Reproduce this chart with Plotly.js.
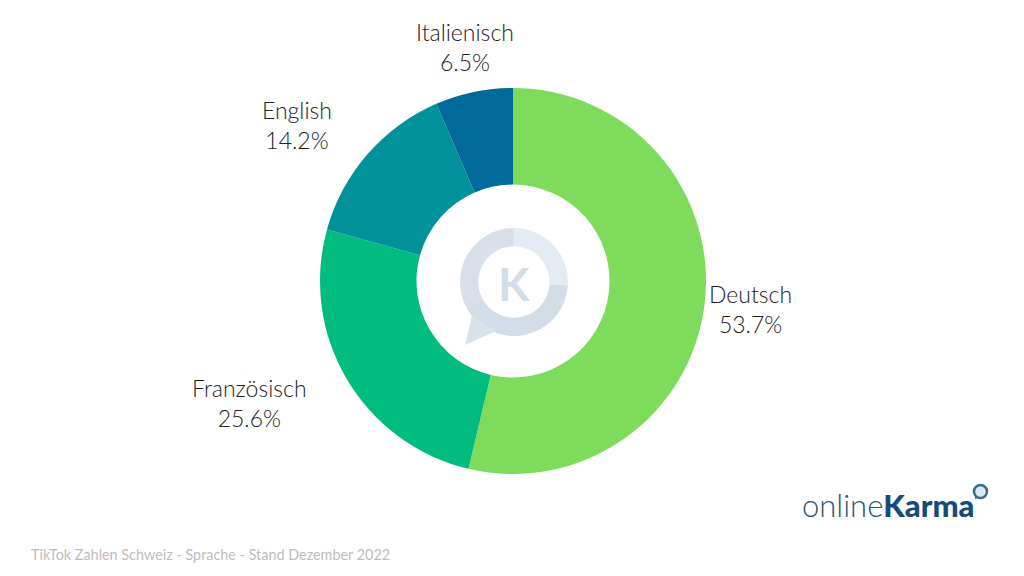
<!DOCTYPE html>
<html>
<head>
<meta charset="utf-8">
<script src="https://cdn.plot.ly/plotly-3.0.1.min.js"></script>
<style>
html, body { margin: 0; padding: 0; background: #fff; }
#chart { width: 1024px; height: 576px; }
</style>
</head>
<body>
<div id="chart"></div>
<script>
const languages = ['Deutsch', 'Französisch', 'English', 'Italienisch'];
const shares = [53.7, 25.6, 14.2, 6.5];
const colors = ['#7FDB5B', '#00BC7E', '#00919A', '#006A9A'];
// label centres in pixels
const labelX = [750, 249, 297, 465];
const labelY = [309, 403, 125, 47];

// watermark ring in the hole
const ringParts = [26, 41, 33];
const ringColors = ['#E3EBF5', '#D3DDE7', '#D9DFE9'];

const footer = 'TikTok Zahlen Schweiz - Sprache - Stand Dezember 2022';
const W = 1024, H = 576;
const FONT = 'Lato, "Open Sans", sans-serif';

function px(x) { return x / W; }
function py(y) { return 1 - y / H; }

function getAnnotations() {
    let annotations = languages.map((name, i) => ({
        text: name + '<br>' + shares[i].toFixed(1) + '%',
        x: px(labelX[i]),
        y: py(labelY[i]),
        xref: 'paper', yref: 'paper',
        xanchor: 'center', yanchor: 'middle',
        showarrow: false,
        align: 'center',
        font: {family: FONT, size: 23, color: '#222222', weight: 300}
    }));

    annotations.push({
        text: footer,
        x: px(29), y: py(554),
        xref: 'paper', yref: 'paper',
        xanchor: 'left', yanchor: 'middle',
        showarrow: false,
        font: {family: FONT, size: 14.4, color: '#BDBDBD'}
    });
    annotations.push({
        text: 'K',
        x: px(514), y: py(283),
        xref: 'paper', yref: 'paper',
        xanchor: 'center', yanchor: 'middle',
        showarrow: false,
        font: {family: FONT, size: 46, color: '#D3DDE7', weight: 700}
    });
    annotations.push({
        text: '<span style="font-weight:300;color:#2F5373">online</span><span style="font-weight:900;color:#154A7D">Karma</span>',
        x: px(800), y: py(505),
        xref: 'paper', yref: 'paper',
        xanchor: 'left', yanchor: 'middle',
        showarrow: false,
        font: {family: FONT, size: 31, color: '#154A7D'}
    });
    return annotations;
}

Plotly.newPlot('chart', [
    {
        type: 'pie',
        labels: languages,
        values: shares,
        marker: {colors: colors, line: {width: 0}},
        hole: 0.5,
        sort: false,
        direction: 'clockwise',
        rotation: 0,
        textinfo: 'none',
        hoverinfo: 'label+percent',
        domain: {x: [px(320), px(706)], y: [py(474), py(88)]}
    },
    {
        type: 'pie',
        values: ringParts,
        marker: {colors: ringColors, line: {width: 0}},
        hole: 0.66,
        sort: false,
        direction: 'clockwise',
        rotation: 0,
        textinfo: 'none',
        hoverinfo: 'skip',
        domain: {x: [px(460), px(568)], y: [py(336), py(228)]}
    }
], {
    width: W,
    height: H,
    margin: {l: 0, r: 0, t: 0, b: 0},
    paper_bgcolor: '#ffffff',
    showlegend: false,
    annotations: getAnnotations(),
    shapes: [
        // speech bubble tail of the watermark
        {type: 'path', xref: 'paper', yref: 'paper', layer: 'above', line: {width: 0}, fillcolor: '#D9E1E9',
            path: `M ${px(472)} ${py(316)} L ${px(465)} ${py(345)} L ${px(496)} ${py(331)} Z`},
        // small logo mark
        {type: 'path', xref: 'paper', yref: 'paper', layer: 'above', line: {width: 0}, fillcolor: '#2F6C8F',
            path: `M ${px(975)} ${py(494)} L ${px(975)} ${py(499)} L ${px(980)} ${py(497)} Z`},
        {type: 'circle', xref: 'paper', yref: 'paper', layer: 'above', fillcolor: '#DCE7EE', line: {color: '#2F6C8F', width: 2.5},
            x0: px(974), x1: px(987), y0: py(498), y1: py(485)}
    ]
}, {staticPlot: true});
</script>
</body>
</html>
